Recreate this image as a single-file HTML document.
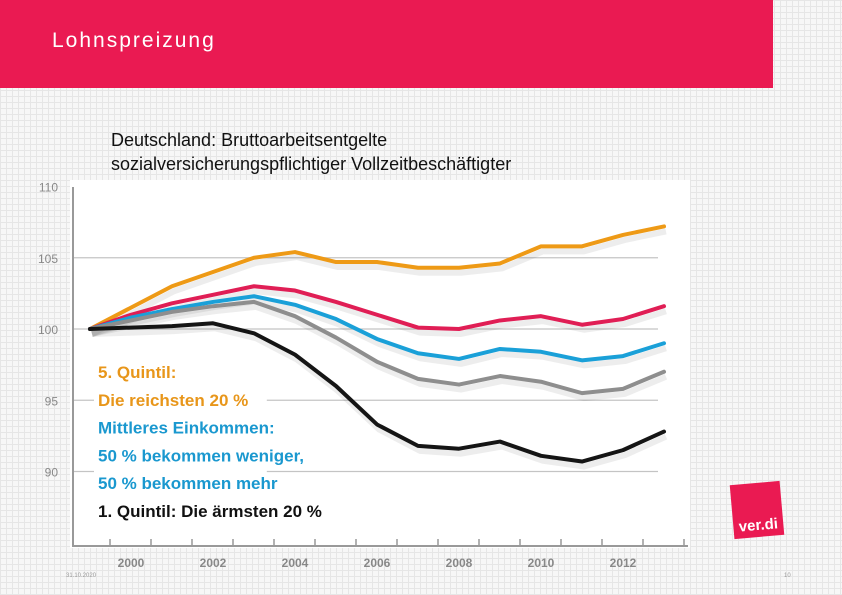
<!DOCTYPE html>
<html><head><meta charset="utf-8">
<style>
body{margin:0;width:842px;height:595px;overflow:hidden;font-family:"Liberation Sans",sans-serif;
background-color:#f7f7f7;background-image:linear-gradient(#e6e6e6 1px,transparent 1px),linear-gradient(90deg,#e6e6e6 1px,transparent 1px);background-size:6px 6px;position:relative}
#hdr{position:absolute;left:0;top:0;width:773px;height:88px;background:#ea1a52}
#hdr span{position:absolute;left:52px;top:29px;color:#fff;font-size:21px;letter-spacing:2px}
#sub{position:absolute;left:111px;top:128px;font-size:18px;line-height:24px;color:#111}
svg{position:absolute;left:0;top:0}
</style></head><body>
<div id="hdr"><span>Lohnspreizung</span></div>
<svg id="c" width="842" height="595"></svg>
<div id="sub">Deutschland: Bruttoarbeitsentgelte<br>sozialversicherungspflichtiger Vollzeitbeschäftigter</div>
<script>
const years=[1999,2000,2001,2002,2003,2004,2005,2006,2007,2008,2009,2010,2011,2012,2013];
const topQ=[100,101.5,103,104,105,105.4,104.7,104.7,104.3,104.3,104.6,105.8,105.8,106.6,107.2];
const upperMid=[100,101,101.8,102.4,103,102.7,101.9,101,100.1,100,100.6,100.9,100.3,100.7,101.6];
const median=[100,100.8,101.4,101.9,102.3,101.7,100.7,99.3,98.3,97.9,98.6,98.4,97.8,98.1,99];
const lowerMid=[100,100.6,101.2,101.6,101.9,100.9,99.4,97.7,96.5,96.1,96.7,96.3,95.5,95.8,97];
const bottomQ=[100,100.1,100.2,100.4,99.7,98.2,96,93.3,91.8,91.6,92.1,91.1,90.7,91.5,92.8];
const yTicks=[110,105,100,95,90];
const xTicks=[2000,2002,2004,2006,2008,2010,2012];
const x=y=>90+(y-1999)*41;
const yv=v=>329-(v-100)*14.25;
const s=document.getElementById('c');
const NS='http://www.w3.org/2000/svg';
function mk(t,a){const e=document.createElementNS(NS,t);for(const k in a)e.setAttribute(k,a[k]);s.appendChild(e);return e;}
let e=mk('rect',{x:70,y:180,width:620,height:368,fill:'#fff'});


yTicks.forEach(v=>{
 if(v!==110){let g=mk('line',{x1:72,x2:658,y1:yv(v),y2:yv(v),stroke:'#c4c4c4','stroke-width':1.2});
 
 }
 let t=mk('text',{x:58,y:yv(v)+5,'text-anchor':'end','font-size':12,fill:'#888'});t.textContent=v;
 
 
});
e=mk('line',{x1:73,x2:73,y1:187,y2:546,stroke:'#999','stroke-width':2});


e=mk('line',{x1:72,x2:688,y1:546,y2:546,stroke:'#999','stroke-width':2});


for(let yr=1999;yr<=2013;yr++){let k=mk('line',{x1:x(yr)+20,x2:x(yr)+20,y1:539,y2:546,stroke:'#999','stroke-width':1.5});

}
xTicks.forEach(yr=>{let t=mk('text',{x:x(yr),y:567,'text-anchor':'middle','font-size':12,'font-weight':'bold',fill:'#888'});t.textContent=yr;

});
const series=[[topQ,'#ee9a16','top-quintile-line'],[upperMid,'#e01e55','upper-middle-line'],[median,'#1aa0d8','median-line'],[lowerMid,'#8e8e8e','lower-middle-line'],[bottomQ,'#151515','bottom-quintile-line']];
series.forEach(([d,c,n])=>{
 const pts=d.map((v,i)=>x(years[i])+','+yv(v)).join(' ');
 let sh=mk('polyline',{points:pts,fill:'none',stroke:'rgba(0,0,0,0.07)','stroke-width':6,transform:'translate(2,5)','stroke-linejoin':'round'});
 
 
 let p=mk('polyline',{points:pts,fill:'none',stroke:c,'stroke-width':4,'stroke-linejoin':'round','stroke-linecap':'round'});
 
 
});
const leg=[['5. Quintil:','#e8961a'],['Die reichsten 20 %','#e8961a'],['Mittleres Einkommen:','#1a98cf'],['50 % bekommen weniger,','#1a98cf'],['50 % bekommen mehr','#1a98cf'],['1. Quintil: Die ärmsten 20 %','#111']];
leg.forEach(([t,c],i)=>{let r=mk('rect',{x:94,y:355+i*28,width:t.length*9.6,height:24,fill:'#fff'});


let tx=mk('text',{x:98,y:378+i*27.8,'font-size':17,'font-weight':'bold',fill:c});tx.textContent=t;

});
let g=mk('g',{transform:'translate(757,510) rotate(-5)'});
g.innerHTML='<rect x="-25" y="-27" width="50" height="54" fill="#ea1a52"/><text x="0" y="20" text-anchor="middle" font-size="15" font-weight="bold" fill="#fff">ver.di</text>';
let d1=mk('text',{x:66,y:577,'font-size':6,fill:'#999'});d1.textContent='31.10.2020';


let pn=mk('text',{x:784,y:577,'font-size':6,fill:'#999'});pn.textContent='10';


</script>
</body></html>
